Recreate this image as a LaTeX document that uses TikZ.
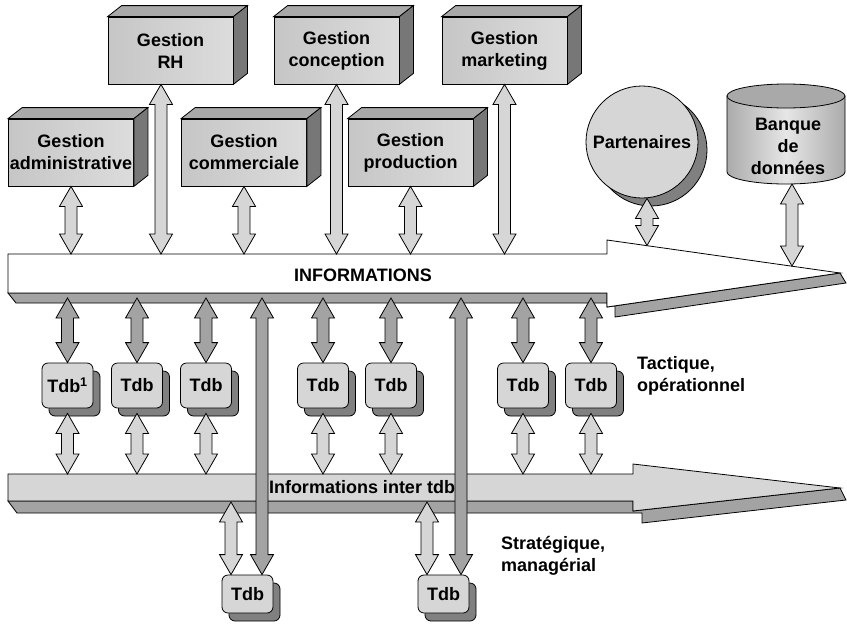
\documentclass[tikz,border=0pt]{standalone}
\usepackage{fontspec}
\setmainfont{Liberation Sans}
\usetikzlibrary{calc,shadows}
\definecolor{cFrontL}{HTML}{C6C6C6}
\definecolor{cFrontR}{HTML}{DCDCDC}
\definecolor{cTop}{HTML}{A9A9A9}
\definecolor{cSide}{HTML}{777777}
\definecolor{cLight}{HTML}{D6D6D6}
\definecolor{cDark}{HTML}{A3A3A3}
\definecolor{cShadow}{HTML}{808080}
\definecolor{cCylS}{HTML}{ABABAB}
\definecolor{cCylM}{HTML}{E6E6E6}
\newcommand\bigfont{\fontsize{18}{22}\selectfont\bfseries}
\newcommand\blockarr[3]{\path[#1] let \p1=#2, \p2=#3 in
  (\x1,\y1) -- ({\x1+11.5pt},{\y1-20pt}) -- ({\x1+6pt},{\y1-20pt}) -- ({\x1+6pt},{\y2+20pt})
  -- ({\x1+11.5pt},{\y2+20pt}) -- (\x1,\y2) -- ({\x1-11.5pt},{\y2+20pt}) -- ({\x1-6pt},{\y2+20pt})
  -- ({\x1-6pt},{\y1-20pt}) -- ({\x1-11.5pt},{\y1-20pt}) -- cycle;}
\newcommand\boxfaces[1]{%
  \draw[outl, fill=cTop] (#1.north west) -- ++(14,11) -- ($(#1.north east)+(14,11)$) -- (#1.north east) -- cycle;
  \draw[outl, fill=cSide] (#1.north east) -- ++(14,11) -- ($(#1.south east)+(14,11)$) -- (#1.south east) -- cycle;}
\begin{document}
\begin{tikzpicture}[x=1pt,y=1pt,
  outl/.style={draw=black, line width=.8pt, line join=miter},
  lightA/.style={outl, fill=cLight},
  darkA/.style={outl, fill=cDark},
  gbox/.style={outl, left color=cFrontL, right color=cFrontR, minimum width=125pt, minimum height=67pt,
    inner sep=0pt, align=center, font=\bigfont},
  tdb/.style={outl, fill=cLight, rounded corners=6pt, minimum width=51pt, minimum height=45pt,
    inner sep=0pt, font=\bigfont,
    drop shadow={shadow xshift=7pt, shadow yshift=-8pt, fill=cShadow, draw=black, line width=.8pt, opacity=1}},
  lbl/.style={font=\bigfont, align=left, anchor=north west, inner sep=0pt}]
\useasboundingbox (0,0) rectangle (847,-625);

% INFORMATIONS band
\draw[outl, fill=cDark] (8,-293) -- (607,-293) -- (607,-307) -- (840,-273) -- (846,-283) -- (615,-317) -- (615,-303) -- (16,-303) -- cycle;
\draw[outl, fill=white] (8,-254) -- (607,-254) -- (607,-240) -- (840,-273) -- (607,-307) -- (607,-293) -- (8,-293) -- cycle;
\node[font=\bigfont] (info) at (363,-275) {INFORMATIONS};

% inter tdb band
\draw[outl, fill=cDark] (8,-501) -- (633,-501) -- (633,-511) -- (840,-488) -- (846,-500) -- (642,-523) -- (642,-513) -- (17,-513) -- cycle;
\draw[outl, fill=cLight] (8,-474) -- (633,-474) -- (633,-464) -- (840,-488) -- (633,-511) -- (633,-501) -- (8,-501) -- cycle;
\node[font=\bigfont] (inter) at (362,-487) {Informations inter tdb};

% Gestion boxes
\node[gbox] (rh) at (170.5,-50.5) {Gestion\\RH};
\node[gbox] (con) at (336.5,-50.5) {Gestion\\conception};
\node[gbox] (mkt) at (504.5,-50.5) {Gestion\\marketing};
\node[gbox] (adm) at (71,-152.5) {Gestion\\administrative};
\node[gbox] (com) at (244,-152.5) {Gestion\\commerciale};
\node[gbox] (prod) at (410.5,-152.5) {Gestion\\production};
\boxfaces{rh}\boxfaces{con}\boxfaces{mkt}\boxfaces{adm}\boxfaces{com}\boxfaces{prod}

% Partenaires
\node[outl, circle, fill=cLight, minimum size=112pt, inner sep=0pt, font=\bigfont,
  drop shadow={shadow xshift=9pt, shadow yshift=-8pt, fill=cShadow, draw=black, line width=.8pt, opacity=1}]
  (part) at (642,-142) {Partenaires};

% Banque de donnees (cylinder)
\draw[outl, left color=cCylS, right color=cCylS, middle color=cCylM] (727,-96) -- (727,-172)
  arc[start angle=180, end angle=360, x radius=59, y radius=12] -- (845,-96) -- cycle;
\draw[outl, fill=cTop] (786,-96) ellipse [x radius=59, y radius=12];
\node[font=\bigfont, align=center, inner sep=0pt] (bank) at (788,-146) {Banque\\de\\données};
\coordinate (bankbot) at (792,-184);

% attachment levels
\coordinate (itop) at (0,-254);
\coordinate (ibot) at (0,-298);
\coordinate (jtop) at (0,-474);
\coordinate (jbot) at (0,-502);

% arrows gestion <-> informations
\blockarr{lightA}{(adm.south)}{(adm.south |- itop)}
\coordinate (rhA) at ($(rh.south)+(-9.5,0)$);
\blockarr{lightA}{(rhA)}{(rhA |- itop)}
\blockarr{lightA}{(com.south)}{(com.south |- itop)}
\blockarr{lightA}{(con.south)}{(con.south |- itop)}
\blockarr{lightA}{(prod.south)}{(prod.south |- itop)}
\blockarr{lightA}{(mkt.south)}{(mkt.south |- itop)}
\coordinate (pA) at (647,-245.5);
\blockarr{lightA}{(part.south -| pA)}{(pA)}
\coordinate (bA) at (792,-266);
\blockarr{lightA}{(bankbot)}{(bA)}

% tactical Tdb
\node[tdb] (t1) at (67.5,-385.5) {Tdb\textsuperscript{1}};
\node[tdb] (t2) at (137,-385.5) {Tdb};
\node[tdb] (t3) at (206,-385.5) {Tdb};
\node[tdb] (t4) at (323,-385.5) {Tdb};
\node[tdb] (t5) at (391,-385.5) {Tdb};
\node[tdb] (t6) at (523,-385.5) {Tdb};
\node[tdb] (t7) at (591,-385.5) {Tdb};
\foreach \t in {t1,t2,t3,t4,t5,t6,t7}{
  \blockarr{darkA}{(\t.north |- ibot)}{(\t.north)}
  \blockarr{lightA}{($(\t.south)+(0,-5)$)}{(\t.south |- jtop)}
}

% strategic Tdb
\node[tdb, minimum height=38pt] (bt1) at (247.5,-594) {Tdb};
\node[tdb, minimum height=38pt] (bt2) at (443.5,-594) {Tdb};
\coordinate (b1l) at ($(bt1.north)+(-16.5,0)$);
\coordinate (b1r) at ($(bt1.north)+(14.5,0)$);
\coordinate (b2l) at ($(bt2.north)+(-16.5,0)$);
\coordinate (b2r) at ($(bt2.north)+(17.5,0)$);
\blockarr{lightA}{(b1l |- jbot)}{(b1l)}
\blockarr{lightA}{(b2l |- jbot)}{(b2l)}
\blockarr{darkA}{(b1r |- ibot)}{(b1r)}
\blockarr{darkA}{(b2r |- ibot)}{(b2r)}

% labels
\node[lbl] (tac) at (637,-356) {Tactique,\\opérationnel};
\node[lbl] (strat) at (501,-536) {Stratégique,\\managérial};
\end{tikzpicture}
\end{document}
